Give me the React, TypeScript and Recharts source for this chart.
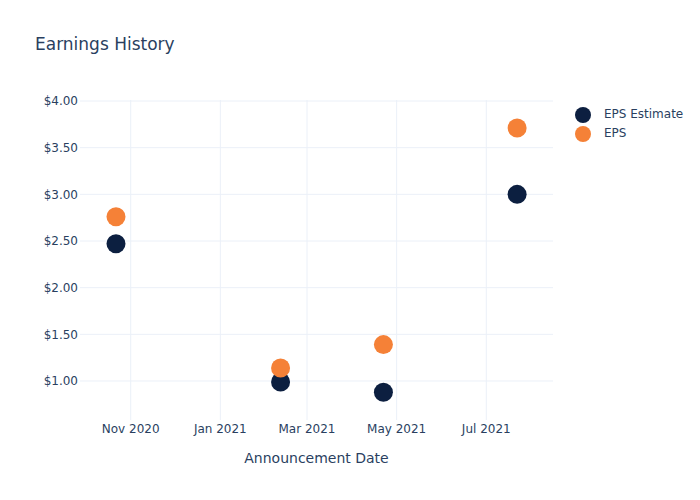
import { ScatterChart, Scatter, XAxis, YAxis, CartesianGrid } from 'recharts'

const announcementDates = ['2020-10-22', '2021-02-11', '2021-04-22', '2021-07-22']
const epsEstimate = [2.47, 0.99, 0.88, 3.0]
const epsActual = [2.76, 1.14, 1.39, 3.71]
const xTickDates = ['2020-11-01', '2021-01-01', '2021-03-01', '2021-05-01', '2021-07-01']
const yTicks = [1, 1.5, 2, 2.5, 3, 3.5, 4]

const MONTHS = ['Jan', 'Feb', 'Mar', 'Apr', 'May', 'Jun', 'Jul', 'Aug', 'Sep', 'Oct', 'Nov', 'Dec']
const FONT = '"DejaVu Sans", Verdana, sans-serif'
const TEXT = '#2a3f5f'
const NAVY = '#0c1f40'
const ORANGE = '#f58137'

const ts = (d: string) => Date.parse(d + 'T00:00:00Z')

const estimateData = announcementDates.map((d, i) => ({ date: ts(d), value: epsEstimate[i] }))
const epsData = announcementDates.map((d, i) => ({ date: ts(d), value: epsActual[i] }))
const xTicks = xTickDates.map(ts)
const xDomain = [ts('2020-09-27') + 12 * 3600e3, ts('2021-08-15') + 10 * 3600e3]
const yDomain = [0.582, 4.011]

const formatDate = (t: number) => {
  const d = new Date(t)
  return `${MONTHS[d.getUTCMonth()]} ${d.getUTCFullYear()}`
}

const Dot = (color: string) => (props: any) => (
  <circle cx={props.cx} cy={props.cy} r={9.5} fill={color} />
)

// grid only at the tick values, no lines on the plot edges
const gridY = ({ yAxis, offset }: any) =>
  yTicks.map((t) =>
    yAxis && typeof yAxis.scale === 'function'
      ? yAxis.scale(t)
      : offset.top + offset.height * (1 - (t - yDomain[0]) / (yDomain[1] - yDomain[0]))
  )
const gridX = ({ xAxis, offset }: any) =>
  xTicks.map((t) =>
    xAxis && typeof xAxis.scale === 'function'
      ? xAxis.scale(t)
      : offset.left + (offset.width * (t - xDomain[0])) / (xDomain[1] - xDomain[0])
  )

export default function App() {
  return (
    <div style={{ position: 'relative', width: 700, height: 500, fontFamily: FONT, background: '#fff' }}>
      <style>{`body{margin:0}`}</style>
      <div style={{ position: 'absolute', left: 35, top: 34, fontSize: 17, color: TEXT }}>
        Earnings History
      </div>
      <ScatterChart width={700} height={500} margin={{ top: 100, right: 147, bottom: 20, left: 0 }}>
        <CartesianGrid
          stroke="#ebf0f8"
          strokeWidth={1}
          horizontalCoordinatesGenerator={gridY}
          verticalCoordinatesGenerator={gridX}
        />
        <XAxis
          type="number"
          dataKey="date"
          domain={xDomain}
          ticks={xTicks}
          tickFormatter={formatDate}
          allowDataOverflow
          axisLine={false}
          tickLine={false}
          tickSize={0}
          tickMargin={4}
          height={60}
          tick={{ fill: TEXT, fontSize: 12, fontFamily: FONT }}
          label={{ value: 'Announcement Date', position: 'insideBottom', offset: 17, fill: TEXT, fontSize: 14, fontFamily: FONT }}
        />
        <YAxis
          type="number"
          dataKey="value"
          domain={yDomain}
          ticks={yTicks}
          allowDataOverflow
          tickFormatter={(v: number) => `$${v.toFixed(2)}`}
          axisLine={false}
          tickLine={false}
          tickSize={0}
          tickMargin={2}
          width={80}
          tick={{ fill: TEXT, fontSize: 12, fontFamily: FONT }}
        />
        <Scatter name="EPS Estimate" data={estimateData} fill={NAVY} shape={Dot(NAVY)} isAnimationActive={false} />
        <Scatter name="EPS" data={epsData} fill={ORANGE} shape={Dot(ORANGE)} isAnimationActive={false} />
      </ScatterChart>
      <div style={{ position: 'absolute', left: 575, top: 105, fontSize: 12, color: TEXT, lineHeight: '19px' }}>
        {[
          { name: 'EPS Estimate', color: NAVY },
          { name: 'EPS', color: ORANGE },
        ].map((item) => (
          <div key={item.name} style={{ display: 'flex', alignItems: 'center', height: 19 }}>
            <span style={{ display: 'inline-block', width: 16, height: 16, borderRadius: 8, background: item.color, marginRight: 13 }} />
            <span>{item.name}</span>
          </div>
        ))}
      </div>
    </div>
  )
}
